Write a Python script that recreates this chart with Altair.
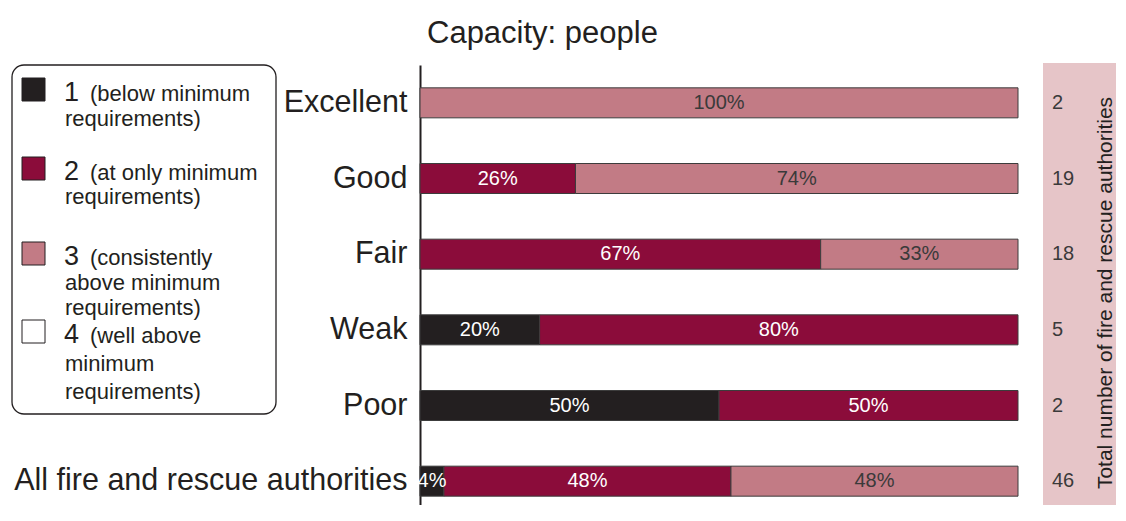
import altair as alt
import pandas as pd

# ---------------- data ----------------
categories = ["Excellent", "Good", "Fair", "Weak", "Poor", "All fire and rescue authorities"]
level1 = [0, 0, 0, 20, 50, 4]      # below minimum requirements
level2 = [0, 26, 67, 80, 50, 48]   # at only minimum requirements
level3 = [100, 74, 33, 0, 0, 48]   # consistently above minimum requirements
level4 = [0, 0, 0, 0, 0, 0]        # well above minimum requirements
totals = [2, 19, 18, 5, 2, 46]

levels = [1, 2, 3, 4]
level_colors = ["#231f20", "#8b0c3a", "#c27b85", "#ffffff"]
legend_digits = ["1", "2", "3", "4"]
legend_lines = [
    ["(below minimum", "requirements)"],
    ["(at only minimum", "requirements)"],
    ["(consistently", "above minimum", "requirements)"],
    ["(well above", "minimum", "requirements)"],
]

title_text = "Capacity: people"
side_title = "Total number of fire and rescue authorities"

# ---------------- tables ----------------
rows = []
for c, a, b, d, e in zip(categories, level1, level2, level3, level4):
    for lev, v in zip(levels, [a, b, d, e]):
        if v > 0:
            rows.append({"cat": c, "level": lev, "pct": v})
bars_df = pd.DataFrame(rows)
tot_df = pd.DataFrame({"cat": categories, "total": [str(t) for t in totals]})

# ---------------- layout (pixels, relative to plot origin) ----------------
FONT = "Liberation Sans"
INK = "#231f20"
OX, OY = 420, 65  # plot origin in page coordinates (incl. 8px page margin)

sym_tops = [78, 157, 242, 320]
sym_size = 23
digit_base = [101, 180, 265, 343]
line_step = [25, 24, 25, 28]

sym_df = pd.DataFrame({
    "level": levels,
    "x0": [22 - OX] * 4,
    "x1": [22 + sym_size - OX] * 4,
    "y0": [t - OY for t in sym_tops],
    "y1": [t + sym_size - OY for t in sym_tops],
})
dig_df = pd.DataFrame({
    "txt": legend_digits,
    "px": [64 - OX] * 4,
    "py": [b - OY for b in digit_base],
})
lrows = []
for i, lines in enumerate(legend_lines):
    for k, t in enumerate(lines):
        lrows.append({
            "txt": t,
            "px": (90 if k == 0 else 65) - OX,
            "py": digit_base[i] + k * line_step[i] - OY,
        })
leg_df = pd.DataFrame(lrows)
one = pd.DataFrame({"k": [0]})

color_scale = alt.Scale(domain=levels, range=level_colors)
y_scale = alt.Scale(domain=categories, range=[0, 454], paddingInner=0, paddingOuter=0)
x_scale = alt.Scale(domain=[0, 100], nice=False, zero=True)

# right-hand shaded panel
side_bg = alt.Chart(one).mark_rect(fill="#e6c5c8").encode(
    x=alt.value(1043 - OX), x2=alt.value(760), y=alt.value(63 - OY), y2=alt.value(480)
)

bars = alt.Chart(bars_df).mark_bar(size=30, stroke="#3c3c3c", strokeWidth=1).encode(
    y=alt.Y("cat:N", scale=y_scale,
            axis=alt.Axis(title=None, labelFontSize=30.5, labelFont=FONT, labelColor=INK,
                          labelPadding=13, labelLimit=700, ticks=False, grid=False,
                          domainColor=INK, domainWidth=2)),
    x=alt.X("pct:Q", stack="zero", scale=x_scale, axis=None),
    color=alt.Color("level:N", scale=color_scale, legend=None),
    order=alt.Order("level:Q"),
)

bar_labels = alt.Chart(bars_df).transform_stack(
    stack="pct", groupby=["cat"], sort=[alt.SortField("level", order="ascending")], as_=["x0", "x1"]
).transform_calculate(
    mid="(datum.x0 + datum.x1) / 2", lab="datum.pct + '%'"
).mark_text(fontSize=20, font=FONT, baseline="middle").encode(
    y=alt.Y("cat:N", scale=y_scale, axis=None),
    x=alt.X("mid:Q", scale=x_scale, axis=None),
    text="lab:N",
    color=alt.when(alt.datum.level == 3).then(alt.value("#3a3a3a")).otherwise(alt.value("#ffffff")),
)

tot_text = alt.Chart(tot_df).mark_text(fontSize=20, font=FONT, align="left", baseline="middle",
                                       color="#3a3a3a").encode(
    y=alt.Y("cat:N", scale=y_scale, axis=None),
    x=alt.value(1052 - OX),
    text="total:N",
)

side_title_mark = alt.Chart(one).mark_text(
    text=side_title, angle=270, align="center", baseline="middle", fontSize=21, font=FONT, color=INK
).encode(x=alt.value(1106 - OX), y=alt.value(293 - OY))

title_mark = alt.Chart(one).mark_text(
    text=title_text, align="left", baseline="alphabetic", fontSize=31, font=FONT, color=INK
).encode(x=alt.value(427 - OX), y=alt.value(43 - OY))

legend_box = alt.Chart(one).mark_rect(
    fill="white", stroke=INK, strokeWidth=1.3, cornerRadius=12
).encode(x=alt.value(12 - OX), x2=alt.value(276 - OX), y=alt.value(65 - OY), y2=alt.value(414 - OY))

legend_syms = alt.Chart(sym_df).mark_rect(stroke=INK, strokeWidth=1).encode(
    x=alt.X("x0:Q", scale=None, axis=None), x2="x1:Q",
    y=alt.Y("y0:Q", scale=None, axis=None), y2="y1:Q",
    color=alt.Color("level:N", scale=color_scale, legend=None),
)

legend_digits_mark = alt.Chart(dig_df).mark_text(
    align="left", baseline="alphabetic", fontSize=27, font=FONT, color=INK
).encode(
    x=alt.X("px:Q", scale=None, axis=None),
    y=alt.Y("py:Q", scale=None, axis=None),
    text="txt:N",
)

legend_text = alt.Chart(leg_df).mark_text(
    align="left", baseline="alphabetic", fontSize=22, font=FONT, color=INK
).encode(
    x=alt.X("px:Q", scale=None, axis=None),
    y=alt.Y("py:Q", scale=None, axis=None),
    text="txt:N",
)

chart = alt.layer(
    side_bg, bars, bar_labels, tot_text, side_title_mark, title_mark,
    legend_box, legend_syms, legend_digits_mark, legend_text,
).resolve_scale(
    x="independent", y="independent"
).properties(
    width=598, height=440, autosize="none",
    padding={"left": 412, "top": 57, "right": 98, "bottom": 0},
    background="white",
).configure_view(stroke=None)

chart.save("out.html", embed_options={"renderer": "svg", "actions": False})
